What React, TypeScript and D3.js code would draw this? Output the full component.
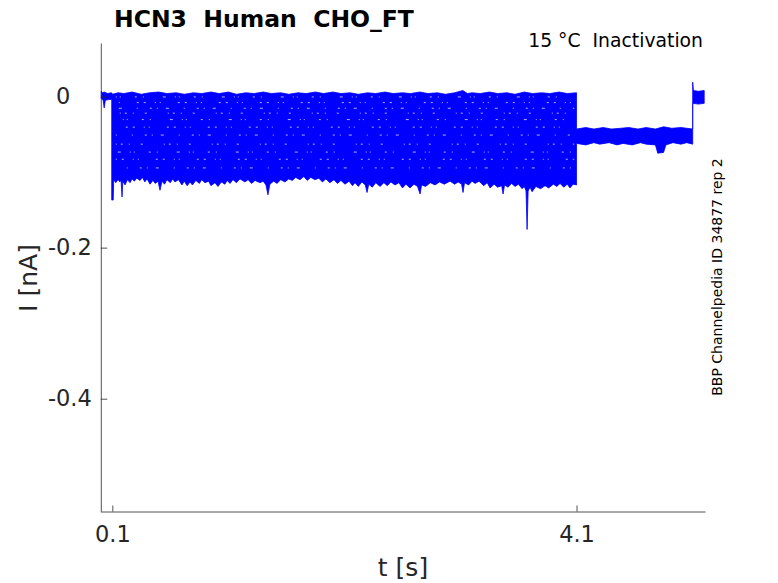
import * as d3 from "d3";
import { useEffect, useRef } from "react";

type Pt = [number, number]; // [t in s, I in nA]

// upper edge of all the sweeps drawn on top of each other
const topEdge: Pt[] = [
    [0.005, 0.007], [0.015, 0.005], [0.03, 0.006], [0.06, 0.004], [0.09, 0.005], [0.1, 0.004],
    [0.1, 0.003], [0.15, 0.005], [0.2, 0.004], [0.27, 0.006], [0.35, 0.003], [0.42, 0.005],
    [0.5, 0.006], [0.57, 0.004], [0.65, 0.005], [0.72, 0.003], [0.8, 0.005], [0.87, 0.004],
    [0.95, 0.006], [1.02, 0.004], [1.1, 0.006], [1.17, 0.003], [1.25, 0.005], [1.32, 0.004],
    [1.4, 0.006], [1.47, 0.004], [1.55, 0.005], [1.62, 0.003], [1.7, 0.005], [1.77, 0.004],
    [1.85, 0.006], [1.92, 0.004], [2.0, 0.006], [2.07, 0.004], [2.15, 0.005], [2.22, 0.003],
    [2.3, 0.005], [2.37, 0.004], [2.45, 0.006], [2.52, 0.004], [2.6, 0.005], [2.67, 0.004],
    [2.75, 0.006], [2.82, 0.004], [2.9, 0.005], [2.97, 0.003], [3.05, 0.005], [3.12, 0.008],
    [3.16, 0.004], [3.2, 0.005], [3.27, 0.004], [3.35, 0.006], [3.42, 0.004], [3.5, 0.005],
    [3.57, 0.003], [3.65, 0.006], [3.72, 0.004], [3.8, 0.005], [3.87, 0.004], [3.95, 0.006],
    [4.02, 0.004], [4.1, 0.005],
    [4.1, -0.043], [4.18, -0.041], [4.25, -0.043], [4.33, -0.041], [4.4, -0.043], [4.48, -0.042],
    [4.55, -0.041], [4.63, -0.043], [4.7, -0.041], [4.78, -0.043], [4.85, -0.040], [4.92, -0.042],
    [5.0, -0.041], [5.101, -0.043],
    [5.101, 0.019], [5.107, 0.008], [5.15, 0.007], [5.2, 0.008],
];

// lower edge, left to right
const bottomEdge: Pt[] = [
    [0.005, -0.003], [0.02, -0.004], [0.03, -0.015], [0.04, -0.005], [0.07, -0.004], [0.095, -0.004],
    [0.095, -0.137], [0.108, -0.137], [0.112, -0.110],
    [0.13, -0.114], [0.15, -0.110], [0.166, -0.113], [0.175, -0.110], [0.184, -0.133], [0.19, -0.112],
    [0.21, -0.117], [0.23, -0.110], [0.253, -0.114], [0.27, -0.109], [0.29, -0.112], [0.31, -0.108],
    [0.339, -0.111], [0.36, -0.107], [0.38, -0.113], [0.40, -0.109], [0.425, -0.116], [0.45, -0.111],
    [0.47, -0.115], [0.494, -0.112], [0.511, -0.124], [0.528, -0.112], [0.55, -0.116], [0.57, -0.110],
    [0.60, -0.114], [0.62, -0.109], [0.64, -0.113], [0.67, -0.110], [0.70, -0.117], [0.72, -0.112],
    [0.745, -0.118], [0.77, -0.113], [0.79, -0.117], [0.82, -0.111], [0.85, -0.115], [0.87, -0.110],
    [0.899, -0.114], [0.93, -0.112], [0.95, -0.118], [0.985, -0.114], [1.01, -0.119], [1.04, -0.113],
    [1.07, -0.116], [1.09, -0.111], [1.114, -0.115], [1.14, -0.110], [1.17, -0.114], [1.2, -0.109],
    [1.243, -0.113], [1.27, -0.110], [1.30, -0.115], [1.33, -0.111], [1.372, -0.114], [1.40, -0.112],
    [1.424, -0.117], [1.441, -0.130], [1.458, -0.116], [1.49, -0.112], [1.52, -0.115], [1.55, -0.110],
    [1.588, -0.113], [1.62, -0.109], [1.65, -0.111], [1.68, -0.107], [1.717, -0.110], [1.75, -0.106],
    [1.78, -0.111], [1.81, -0.107], [1.846, -0.110], [1.88, -0.108], [1.91, -0.113], [1.94, -0.109],
    [1.975, -0.114], [2.01, -0.110], [2.04, -0.115], [2.07, -0.111], [2.105, -0.116], [2.14, -0.112],
    [2.17, -0.118], [2.191, -0.114], [2.22, -0.119], [2.25, -0.113], [2.28, -0.117], [2.295, -0.127],
    [2.31, -0.116], [2.34, -0.120], [2.37, -0.114], [2.407, -0.119], [2.44, -0.114], [2.47, -0.118],
    [2.50, -0.113], [2.536, -0.117], [2.57, -0.114], [2.60, -0.121], [2.63, -0.116], [2.665, -0.121],
    [2.70, -0.116], [2.73, -0.119], [2.752, -0.129], [2.765, -0.117], [2.80, -0.119], [2.84, -0.114],
    [2.881, -0.117], [2.92, -0.113], [2.96, -0.116], [3.01, -0.112], [3.05, -0.116], [3.08, -0.113],
    [3.11, -0.116], [3.122, -0.127], [3.135, -0.114], [3.17, -0.117], [3.2, -0.112], [3.226, -0.115],
    [3.26, -0.112], [3.3, -0.118], [3.33, -0.114], [3.355, -0.121], [3.39, -0.116], [3.42, -0.120],
    [3.455, -0.118], [3.467, -0.129], [3.48, -0.117], [3.51, -0.120], [3.54, -0.115], [3.571, -0.119],
    [3.60, -0.116], [3.631, -0.122], [3.65, -0.119], [3.665, -0.125], [3.674, -0.176], [3.683, -0.125],
    [3.70, -0.120], [3.717, -0.126], [3.75, -0.119], [3.79, -0.122], [3.829, -0.118], [3.86, -0.121],
    [3.9, -0.116], [3.93, -0.119], [3.958, -0.115], [3.99, -0.120], [4.02, -0.116], [4.044, -0.121],
    [4.07, -0.116], [4.1, -0.117],
    [4.1, -0.062], [4.18, -0.064], [4.25, -0.061], [4.3, -0.063], [4.38, -0.061], [4.45, -0.064],
    [4.5, -0.062], [4.58, -0.064], [4.65, -0.061], [4.7, -0.063], [4.78, -0.064], [4.8, -0.075],
    [4.85, -0.074], [4.87, -0.064], [4.93, -0.061], [5.0, -0.063], [5.05, -0.061], [5.101, -0.063],
    [5.101, -0.009], [5.15, -0.010], [5.2, -0.009],
];

// steady level of each sweep during the test pulse (nA)
const sweepLevels = [0.002, -0.003, -0.013, -0.018, -0.026, -0.035, -0.046, -0.056, -0.070, -0.077, -0.089, -0.100];

const xTicks = [0.1, 4.1];
const xTickLabels = ["0.1", "4.1"];
const yTicks = [0, -0.2, -0.4];
const yTickLabels = ["0", "-0.2", "-0.4"];

const width = 778;
const height = 583;
const plot = { left: 101.3, right: 705, top: 43, bottom: 512 };
const font = "DejaVu Sans";
const ink = "#262626";

export default function App() {
    const svgRef = useRef<SVGSVGElement>(null);

    useEffect(() => {
        const svg = d3.select(svgRef.current);
        svg.selectAll('*').remove();

        const x = d3.scaleLinear().domain([0.0052, 5.207]).range([plot.left, plot.right]);
        const y = d3.scaleLinear().domain([-0.55, 0.0709]).range([plot.bottom, plot.top]);

        const line = d3.line<Pt>().x(d => x(d[0])).y(d => y(d[1]));

        // envelope of the overlapping sweeps
        svg.append('path')
            .attr('d', line(topEdge.concat(bottomEdge.slice().reverse())) + 'Z')
            .attr('fill', '#0000ff')
            .attr('stroke', '#0000ff')
            .attr('stroke-width', 0.8);

        // thin gaps between neighbouring sweeps show as white specks
        const gaps = sweepLevels.slice(1).map((v, i) => (v + sweepLevels[i]) / 2);
        const dashes = ["1 3 1 14 2 6 1 19 3 9", "2 9 1 4 1 17 2 5", "1 12 2 5 1 8 3 15", "2 6 1 11 2 21 1 4"];
        gaps.forEach((g, i) => {
            svg.append('path')
                .attr('d', line([[0.13, g], [4.08, g]]))
                .attr('stroke', '#ffffff')
                .attr('stroke-width', 1)
                .attr('stroke-opacity', 0.7)
                .attr('stroke-dasharray', dashes[i % dashes.length])
                .attr('stroke-dashoffset', i * 13);
        });

        // y axis, ticks pointing inwards
        const yAxis = svg.append('g')
            .attr('transform', `translate(${plot.left - 0.5},0)`)
            .call(d3.axisLeft(y)
                .tickValues(yTicks)
                .tickFormat((_, i) => yTickLabels[i])
                .tickSizeInner(-6.5)
                .tickSizeOuter(0)
                .tickPadding(9));

        // x axis
        const xAxis = svg.append('g')
            .attr('transform', `translate(0,${plot.bottom - 0.5})`)
            .call(d3.axisBottom(x)
                .tickValues(xTicks)
                .tickFormat((_, i) => xTickLabels[i])
                .tickSizeInner(-6)
                .tickSizeOuter(0)
                .tickPadding(15));

        [yAxis, xAxis].forEach(a => {
            a.select('.domain').attr('stroke', ink).attr('stroke-width', 0.8);
            a.selectAll('.tick line').attr('stroke', ink).attr('stroke-width', 0.8);
            a.selectAll('.tick text')
                .attr('fill', ink)
                .style('font-family', font)
                .style('font-size', '22.5px');
        });
        // the "0" label sits under the leading zero of the others
        yAxis.selectAll<SVGTextElement, number>('.tick text')
            .filter(d => d === 0)
            .attr('dx', -21.5);

        svg.append('text')
            .attr('x', 114).attr('y', 27)
            .attr('fill', '#000')
            .style('white-space', 'pre')
            .style('font-family', font).style('font-size', '23.5px').style('font-weight', 'bold')
            .text('HCN3  Human  CHO_FT');

        svg.append('text')
            .attr('x', 703).attr('y', 47)
            .attr('text-anchor', 'end')
            .attr('fill', '#000')
            .style('white-space', 'pre')
            .style('font-family', font).style('font-size', '18.8px')
            .text('15 °C  Inactivation');

        svg.append('text')
            .attr('x', 403).attr('y', 576)
            .attr('text-anchor', 'middle')
            .attr('fill', ink)
            .style('font-family', font).style('font-size', '25px')
            .text('t [s]');

        svg.append('text')
            .attr('transform', 'translate(37,278) rotate(-90)')
            .attr('text-anchor', 'middle')
            .attr('fill', ink)
            .style('font-family', font).style('font-size', '25px')
            .text('I [nA]');

        svg.append('text')
            .attr('transform', 'translate(722,277) rotate(-90)')
            .attr('text-anchor', 'middle')
            .attr('fill', '#000')
            .style('font-family', font).style('font-size', '14px')
            .text('BBP Channelpedia ID 34877 rep 2');
    }, []);

    return (
        <svg ref={svgRef} width={width} height={height}
            style={{ position: 'absolute', left: 0, top: 0, background: '#fff' }} />
    );
}
